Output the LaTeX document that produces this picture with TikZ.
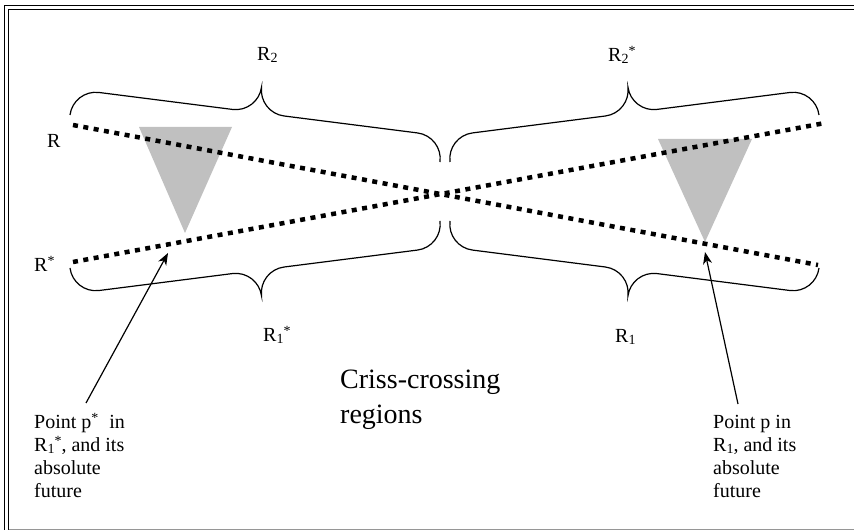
\documentclass[tikz,border=0pt]{standalone}
\usepackage{fontspec}
\setmainfont{Liberation Serif}
\usetikzlibrary{arrows.meta}
\definecolor{conegray}{RGB}{192,192,192}
\definecolor{edgegray}{RGB}{150,150,150}
% small lowered index and raised star, as in R_1^*
\newcommand\lowsub[1]{\raisebox{-0.1em}{\fontsize{14}{14}\selectfont #1}}
\newcommand\upstar{\raisebox{0.3em}{\fontsize{14}{14}\selectfont *}}
\tikzset{
  lbl/.style={anchor=base west, inner sep=0pt, font=\fontsize{20}{23}\selectfont},
  % multi-line texts: the base anchor sits on the last line
  note/.style={anchor=base west, inner sep=0pt, align=left, font=\fontsize{20}{23}\selectfont},
  title/.style={anchor=base west, inner sep=0pt, align=left, font=\fontsize{28}{35}\selectfont},
  worldline/.style={line width=4.5pt, dash pattern=on 5pt off 5.5pt},
  cone/.style={fill=conegray, draw=none},
  bracestroke/.style={line width=1.2pt},
  pointer/.style={line width=1.2pt, -{Stealth[length=12pt,width=9pt,inset=3.5pt]}},
  framerule/.style={line width=1.3pt},
  % curly brace of length #1 and height #2 (negative height opens downward)
  pics/regbrace/.style 2 args={code={
    \draw[bracestroke] (0,0) .. controls (0,{0.276*(#2)}) and (11.65,{0.5*(#2)}) .. (26,{0.5*(#2)})
      -- ({(#1)/2-26},{0.5*(#2)}) .. controls ({(#1)/2-11.65},{0.5*(#2)}) and ({(#1)/2},{0.724*(#2)}) .. ({(#1)/2},{#2})
      .. controls ({(#1)/2},{0.724*(#2)}) and ({(#1)/2+11.65},{0.5*(#2)}) .. ({(#1)/2+26},{0.5*(#2)})
      -- ({(#1)-26},{0.5*(#2)}) .. controls ({(#1)-11.65},{0.5*(#2)}) and ({#1},{0.276*(#2)}) .. ({#1},0);
  }}
}
\begin{document}
\begin{tikzpicture}[x=1pt,y=1pt]
\useasboundingbox (0,0) rectangle (854,530);

% frame
\draw[framerule] (4.5,0) -- (4.5,524.5) -- (854,524.5);
\draw[framerule] (8.5,0) -- (8.5,520.5) -- (854,520.5);
\draw[edgegray, line width=1pt] (8.5,0.8) -- (854,0.8);

% absolute-future cones
\fill[cone] (139,403) -- (232,403) -- (185,297) -- cycle;
\fill[cone] (658,391) -- (752,391) -- (705,288) -- cycle;

% the two regions R and R*
\coordinate (rA) at (73,405);
\coordinate (rB) at (818,265);
\coordinate (sA) at (73,268);
\coordinate (sB) at (825,407);
\draw[worldline] (rA) -- (rB);
\draw[worldline] (sA) -- (sB);

% braces
\pic[rotate=-7.24] at (70,415) {regbrace={373}{52}};
\pic[rotate=7.26] at (450,368) {regbrace={372}{52}};
\pic[rotate=7.24] at (70,262) {regbrace={373}{-52}};
\pic[rotate=-7.26] at (450,309) {regbrace={372}{-52}};

% labels
\node[lbl] (lR2) at (257,469.5) {R\lowsub{2}};
\node[lbl] (lR2s) at (608,468.5) {R\lowsub{2}\upstar};
\node[lbl] (lR) at (47,382) {R};
\node[lbl] (lRs) at (34,258) {R\upstar};
\node[lbl] (lR1s) at (263,188) {R\lowsub{1}\upstar};
\node[lbl] (lR1) at (615,187) {R\lowsub{1}};

\node[title] (crisscross) at (340,106) {Criss-crossing\\regions};

\node[note] (pstar) at (34,32) {Point p\upstar\hspace{0.3em} in\\R\lowsub{1}\upstar, and its\\absolute\\future};
\node[note] (pplain) at (713,32) {Point p in\\R\lowsub{1}, and its\\absolute\\future};

% pointers to the two points
\coordinate (tailL) at (86,127);
\coordinate (tipL) at (168,277);
\coordinate (tailR) at (738,126);
\coordinate (tipR) at (705,278);
\draw[pointer] (tailL) -- (tipL);
\draw[pointer] (tailR) -- (tipR);
\end{tikzpicture}
\end{document}
